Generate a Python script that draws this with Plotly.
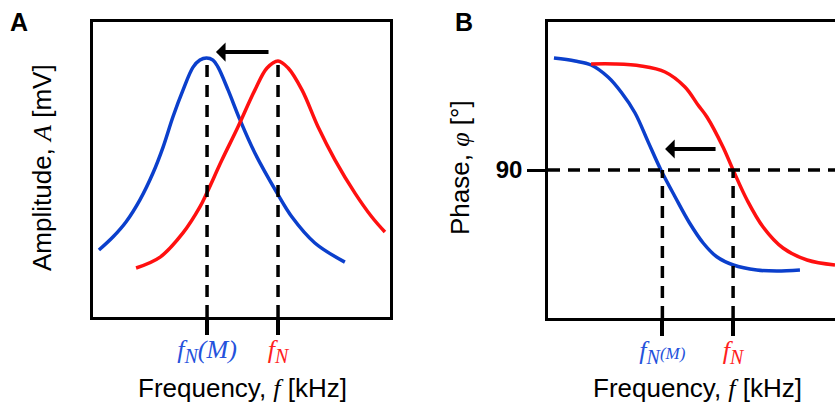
import plotly.graph_objects as go

# ---- Panel A: amplitude (arbitrary units) ----
ampA_blue_f = [0.20, 0.67, 1.11, 1.58, 2.02, 2.36, 2.69, 3.03, 3.37, 3.60, 3.82, 4.04, 4.21, 4.55, 4.95, 5.45, 6.20, 6.70, 7.47, 8.48]
ampA_blue_a = [2.27, 2.71, 3.22, 3.97, 4.88, 5.76, 6.78, 7.69, 8.47, 8.71, 8.78, 8.71, 8.47, 7.69, 6.68, 5.56, 4.20, 3.39, 2.51, 1.86]
ampA_red_f = [1.45, 2.26, 3.03, 3.60, 3.84, 4.34, 4.88, 5.45, 5.86, 6.23, 6.57, 7.04, 7.58, 8.15, 8.82, 9.39, 9.83]
ampA_red_a = [1.66, 2.03, 2.85, 3.73, 4.22, 5.32, 6.44, 7.69, 8.44, 8.68, 8.44, 7.69, 6.44, 5.32, 4.20, 3.39, 2.88]
fN_M_A = 3.84
fN_A = 6.23
peak_blue_A = 8.70
peak_red_A = 8.60

# ---- Panel B: phase (degrees) ----
ph_blue_f = [0.20, 0.91, 1.45, 2.02, 2.46, 2.93, 3.37, 3.80, 4.28, 4.76, 5.23, 5.68, 6.24, 7.03, 7.70, 8.48]
ph_blue_p = [179.6, 177.2, 174.0, 164.4, 152.4, 135.6, 112.5, 90.0, 68.4, 47.8, 31.4, 20.6, 14.0, 10.0, 9.2, 10.0]
ph_red_f = [1.45, 2.26, 3.13, 3.94, 4.61, 5.05, 5.35, 5.89, 6.23, 6.70, 7.24, 7.91, 8.72, 9.66]
ph_red_p = [174.8, 174.8, 173.2, 168.4, 156.4, 142.0, 132.4, 108.4, 90.0, 66.0, 44.4, 27.6, 18.0, 14.0]
fN_M_B = 3.85
fN_B = 6.23
phase_ref = 90

BLUE = "#0b3fcc"
RED = "#ff1010"
BLUE_TXT = "#2552dc"
RED_TXT = "#ff2020"
SERIF = "Liberation Serif"
SANS = "Liberation Sans"

W, H = 835, 408

fig = go.Figure()
fig.add_trace(go.Scatter(x=ampA_blue_f, y=ampA_blue_a, mode="lines", line=dict(color=BLUE, width=3.5, shape="spline"), xaxis="x", yaxis="y", showlegend=False))
fig.add_trace(go.Scatter(x=ampA_red_f, y=ampA_red_a, mode="lines", line=dict(color=RED, width=3.5, shape="spline"), xaxis="x", yaxis="y", showlegend=False))
fig.add_trace(go.Scatter(x=ph_blue_f, y=ph_blue_p, mode="lines", line=dict(color=BLUE, width=3.5, shape="spline"), xaxis="x2", yaxis="y2", showlegend=False))
fig.add_trace(go.Scatter(x=ph_red_f, y=ph_red_p, mode="lines", line=dict(color=RED, width=3.5, shape="spline"), xaxis="x2", yaxis="y2", showlegend=False))

dash = "12px,8px"
DW = 3.5
shapes = [
    dict(type="line", xref="x", yref="y", x0=fN_M_A, x1=fN_M_A, y0=0, y1=peak_blue_A, line=dict(color="black", width=DW, dash=dash)),
    dict(type="line", xref="x", yref="y", x0=fN_A, x1=fN_A, y0=0, y1=peak_red_A, line=dict(color="black", width=DW, dash=dash)),
    dict(type="line", xref="x2 domain", yref="y2", x0=0, x1=1, y0=phase_ref, y1=phase_ref, line=dict(color="black", width=DW, dash=dash)),
    dict(type="line", xref="x2", yref="y2", x0=fN_M_B, x1=fN_M_B, y0=-28.4, y1=phase_ref, line=dict(color="black", width=DW, dash=dash)),
    dict(type="line", xref="x2", yref="y2", x0=fN_B, x1=fN_B, y0=-28.4, y1=phase_ref, line=dict(color="black", width=DW, dash=dash)),
]


def tick_label(color, with_m=True, small_m=False):
    m = ""
    if with_m:
        m = "<i>(M)</i>" if not small_m else "<span style='font-size:17px'><i>(M)</i></span>"
    return (f"<span style='color:{color}'><i>f</i><sub><span style='font-size:20px'><i>N</i></span></sub>{m}</span>")


title_font = dict(family=SANS, size=26, color="black")
annotations = [
    dict(x=4.14, y=8.98, ax=5.96, ay=8.98, xref="x", yref="y", axref="x", ayref="y", text="", showarrow=True, arrowhead=1, arrowsize=0.8, arrowwidth=4, arrowcolor="black"),
    dict(x=3.94, y=106.8, ax=5.69, ay=106.8, xref="x2", yref="y2", axref="x2", ayref="y2", text="", showarrow=True, arrowhead=1, arrowsize=0.8, arrowwidth=4, arrowcolor="black"),
    dict(x=19 / W, y=1 - 22 / H, xref="paper", yref="paper", text="<b>A</b>", showarrow=False, font=dict(family=SANS, size=25, color="black"), xanchor="center", yanchor="middle"),
    dict(x=464 / W, y=1 - 22 / H, xref="paper", yref="paper", text="<b>B</b>", showarrow=False, font=dict(family=SANS, size=25, color="black"), xanchor="center", yanchor="middle"),
    dict(x=242 / W, y=1 - 388 / H, xref="paper", yref="paper", text=f"Frequency, <span style='font-family:{SERIF}'><i>f</i></span> [kHz]", showarrow=False, font=title_font, xanchor="center", yanchor="middle"),
    dict(x=697 / W, y=1 - 388 / H, xref="paper", yref="paper", text=f"Frequency, <span style='font-family:{SERIF}'><i>f</i></span> [kHz]", showarrow=False, font=title_font, xanchor="center", yanchor="middle"),
    dict(x=42 / W, y=1 - 168 / H, xref="paper", yref="paper", text=f"Amplitude, <span style='font-family:{SERIF}'><i>A</i></span> [mV]", textangle=-90, showarrow=False, font=title_font, xanchor="center", yanchor="middle"),
    dict(x=460 / W, y=1 - 168 / H, xref="paper", yref="paper", text=f"Phase, <span style='font-family:{SERIF}'><i>φ</i></span> [°]", textangle=-90, showarrow=False, font=title_font, xanchor="center", yanchor="middle"),
]

axis_common = dict(showgrid=False, zeroline=False, showline=True, linecolor="black", linewidth=2.5)

fig.update_layout(
    width=W, height=H, autosize=False,
    margin=dict(l=0, r=0, t=0, b=0),
    paper_bgcolor="white", plot_bgcolor="white",
    xaxis=dict(**axis_common, domain=[93 / W, 390 / W], range=[0, 10], mirror=True, anchor="y",
               tickmode="array", tickvals=[fN_M_A, fN_A],
               ticktext=[tick_label(BLUE_TXT), tick_label(RED_TXT, with_m=False)],
               ticks="outside", ticklen=15, tickwidth=3.5, tickcolor="black", ticklabelstandoff=-8,
               tickfont=dict(family=SERIF, size=26)),
    yaxis=dict(**axis_common, domain=[91 / H, 386 / H], range=[0, 10], mirror=True, anchor="x",
               showticklabels=False, ticks=""),
    xaxis2=dict(**axis_common, domain=[548 / W, 1.0], range=[0, 9.66], mirror=True, anchor="y2",
                tickmode="array", tickvals=[fN_M_B, fN_B],
                ticktext=[tick_label(BLUE_TXT, small_m=True), tick_label(RED_TXT, with_m=False)],
                ticks="outside", ticklen=15, tickwidth=3.5, tickcolor="black", ticklabelstandoff=-8,
                tickfont=dict(family=SERIF, size=26)),
    yaxis2=dict(**axis_common, domain=[90 / H, 386 / H], range=[-28.4, 208.4], mirror=False, anchor="x2",
                tickmode="array", tickvals=[phase_ref], ticktext=["<b>90</b>"],
                ticks="outside", ticklen=18, tickwidth=2.5, tickcolor="black",
                tickfont=dict(family=SANS, size=24, color="black")),
    shapes=shapes,
    annotations=annotations,
)

fig.write_html("out.html", config={"displayModeBar": False},
               post_script="document.body.style.margin='0';document.body.style.padding='0';")
